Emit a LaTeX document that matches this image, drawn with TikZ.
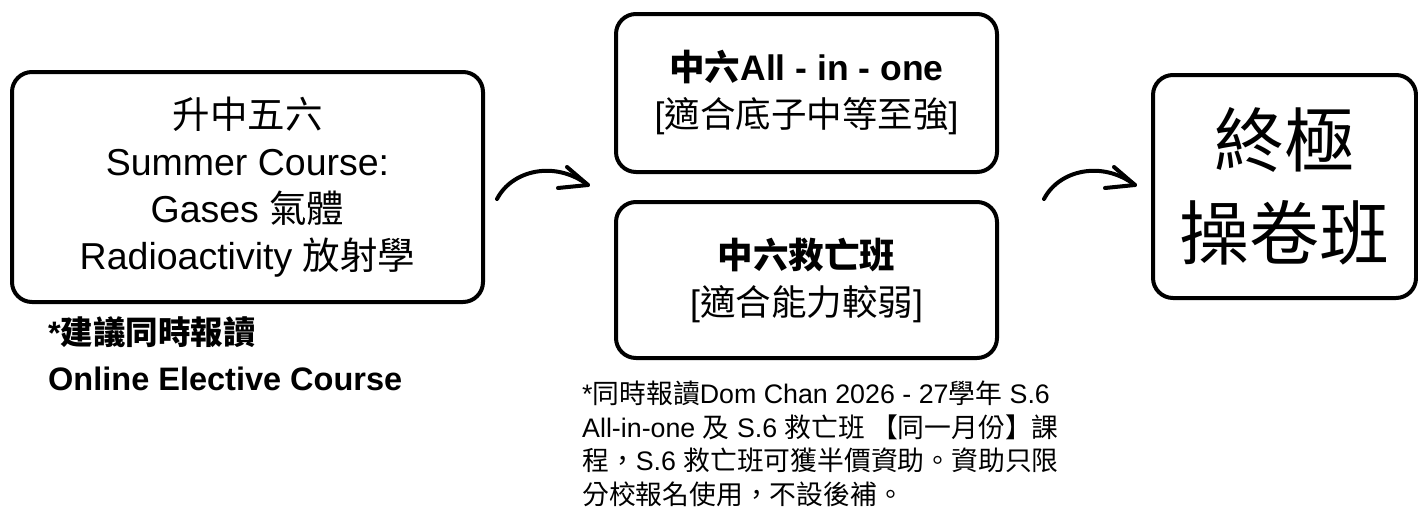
\documentclass[tikz,border=0pt]{standalone}
\usepackage{fontspec}
\setmainfont{Liberation Sans}
\newfontfamily\cjk{Noto Sans CJK TC}
\begin{document}
\begin{tikzpicture}[x=1pt,y=-1pt,
  box/.style={draw=black, line width=4pt, rounded corners=20pt, align=center, inner sep=0pt},
  arr/.style={draw=black, line width=4pt, line cap=round, line join=round},
  boxfont/.style={font=\fontsize{37.5}{47}\selectfont},
  midfont/.style={font=\fontsize{35.5}{47}\selectfont},
  bigfont/.style={font=\fontsize{70}{93}\selectfont},
  sidefont/.style={font=\fontsize{32.5}{46}\selectfont\bfseries},
  notefont/.style={font=\fontsize{26.8}{33.5}\selectfont}]
\useasboundingbox (0,0) rectangle (1418,507);
% boxes
\node[box, boxfont, minimum width=471pt, minimum height=230pt] (summer) at (247.5,187)
  {{\cjk 升中五六}\\Summer Course:\\Gases {\cjk 氣體}\\Radioactivity {\cjk 放射學}};
\node[box, midfont, minimum width=381pt, minimum height=158pt] (allinone) at (806.5,93)
  {\textbf{{\cjk 中六}All - in - one}\\{[}{\cjk 適合底子中等至強}{]}};
\node[box, midfont, minimum width=381pt, minimum height=156pt] (rescue) at (806.5,280)
  {\textbf{\cjk 中六救亡班}\\{[}{\cjk 適合能力較弱}{]}};
\node[box, bigfont, minimum width=263pt, minimum height=223pt] (final) at (1284.5,186.5)
  {{\cjk 終極}\\{\cjk 操卷班}};
% side notes
\node[sidefont, anchor=north west, align=left, inner sep=0pt] (concurrent) at (48,316)
  {*{\cjk 建議同時報讀}\\Online Elective Course};
\node[notefont, anchor=north west, align=left, inner sep=0pt] (note) at (582,381)
  {*{\cjk 同時報讀}Dom Chan 2026 - 27{\cjk 學年} S.6\\
   All-in-one {\cjk 及} S.6 {\cjk 救亡班 【同一月份】課}\\
   {\cjk 程，}S.6 {\cjk 救亡班可獲半價資助。資助只限}\\
   {\cjk 分校報名使用，不設後補。}};
% arrows
\coordinate (a1s) at (497,199);
\coordinate (a1e) at (588,185);
\coordinate (a1u) at (567,167);
\coordinate (a1d) at (558,188);
\coordinate (a2s) at (1044,199);
\coordinate (a2e) at (1135,185);
\coordinate (a2u) at (1114,167);
\coordinate (a2d) at (1105,188);
\draw[arr] (a1s) .. controls (512,170) and (555,160) .. (a1e);
\draw[arr] (a1u) -- (a1e) -- (a1d);
\draw[arr] (a2s) .. controls (1059,170) and (1102,160) .. (a2e);
\draw[arr] (a2u) -- (a2e) -- (a2d);
\end{tikzpicture}
\end{document}
